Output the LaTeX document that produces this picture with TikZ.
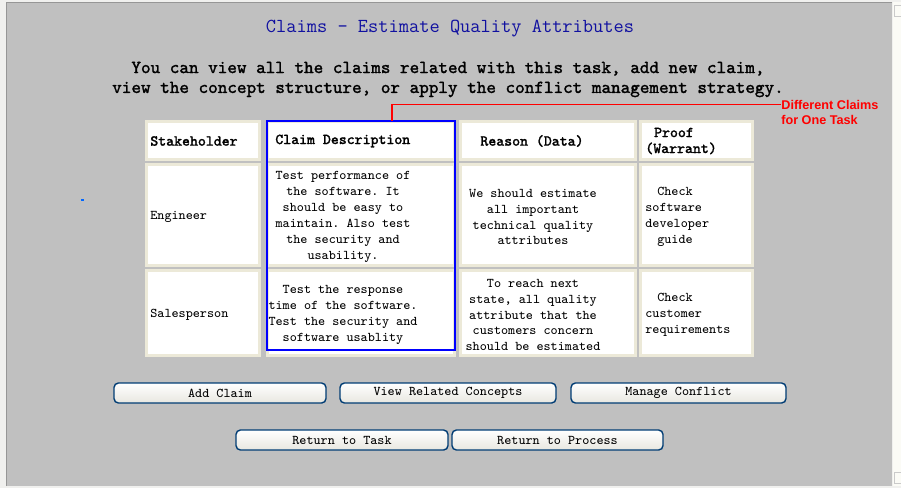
\documentclass[tikz,border=0pt]{standalone}
\usepackage{fontspec}
\setmainfont{Liberation Serif}
\setmonofont{Latin Modern Mono}
\setsansfont{Liberation Sans}
\newfontfamily\boldmono{Latin Modern Mono}[FakeBold=1.6]
\definecolor{pagegray}{RGB}{192,192,192}
\definecolor{edgegray}{RGB}{240,240,238}
\definecolor{lineframe}{RGB}{150,150,150}
\definecolor{cellbeige}{RGB}{236,233,216}
\definecolor{titleblue}{RGB}{16,16,160}
\definecolor{btnedge}{RGB}{0,60,116}
\definecolor{btnface}{RGB}{232,231,224}
\definecolor{scrollbg}{RGB}{251,251,246}
\tikzset{
    cell/.style = {
        fill=white,
        draw=cellbeige,
        line width=1.7pt
    },
    selbox/.style = {
        draw=blue,
        line width=1.4pt,
        inner sep=0pt
    },
    annot/.style = {
        red,
        line width=0.6pt
    },
    note/.style = {
        text=red,
        font=\sffamily\bfseries\fontsize{7.2}{8}\selectfont,
        inner sep=0pt
    },
    head/.style = {
        font=\boldmono\fontsize{8.6}{9.07}\selectfont,
        inner sep=0pt
    },
    body/.style = {
        font=\ttfamily\fontsize{7.6}{9.07}\selectfont,
        inner sep=0pt
    },
    btn/.style = {
        draw=btnedge,
        line width=0.8pt,
        rounded corners=2.5pt,
        top color=white,
        bottom color=btnface,
        minimum height=0.4cm,
        inner sep=0pt,
        font=\ttfamily\fontsize{7.6}{8}\selectfont
    }
}

\begin{document}
\begin{tikzpicture}[x=0.02cm,y=-0.02cm]
    \useasboundingbox (0,0) rectangle (901,488);
    \newcommand\RowA{141}
    \newcommand\RowB{217}
    \newcommand\RowC{315}

    % Window
    \fill[edgegray] (0,0) rectangle (901,488);
    \fill[pagegray] (6.5,3) rectangle (892,486);
    \draw[lineframe,line width=0.9pt] (6.5,486) -- (6.5,2.5) -- (892,2.5);
    \fill[scrollbg] (893,2) rectangle (901,486);
    \draw[lineframe!50,line width=0.4pt] (894,5) rectangle (901,16) (894,472) rectangle (901,483);
    \draw[blue!60!cyan,line width=0.6pt] (81,200) -- (84,200);

    % Title and intro
    \node[text=titleblue,font=\ttfamily\fontsize{11.3}{13}\selectfont] (title) at (450,29)
        {Claims - Estimate Quality Attributes};
    \node[align=center,font=\boldmono\fontsize{10.4}{11.34}\selectfont] (intro) at (448,79.5)
        {You can view all the claims related with this task, add new claim,\\
         view the concept structure, or apply the conflict management strategy.};

    % Cells
    \draw[cell] (146.5,121.5) rectangle (259.5,159.5);
    \draw[cell] (267.5,121.5) rectangle (454.5,159.5);
    \draw[cell] (460.5,121.5) rectangle (635.5,159.5);
    \draw[cell] (640.5,121.5) rectangle (752.5,159.5);
    \draw[cell] (146.5,164.5) rectangle (259.5,265.5);
    \draw[cell] (267.5,164.5) rectangle (454.5,265.5);
    \draw[cell] (460.5,164.5) rectangle (635.5,265.5);
    \draw[cell] (640.5,164.5) rectangle (752.5,265.5);
    \draw[cell] (146.5,270.5) rectangle (259.5,355.5);
    \draw[cell] (267.5,270.5) rectangle (454.5,355.5);
    \draw[cell] (460.5,270.5) rectangle (635.5,355.5);
    \draw[cell] (640.5,270.5) rectangle (752.5,355.5);

    % Header row
    \node[head,anchor=west] (hStake) at (150,\RowA) {Stakeholder};
    \node[head,anchor=west] (hClaim) at (275,\RowA) {Claim Description};
    \node[head] (hReason) at (532,\RowA) {Reason (Data)};
    \node[head,anchor=west,align=left] (hProof) at (645,\RowA) {\hspace*{5pt}Proof\\(Warrant)};

    % Engineer row
    \node[body,anchor=west] (engName) at (150,\RowB) {Engineer};
    \node[body,align=center] (engClaim) at (343,\RowB)
        {Test performance of\\the software. It\\should be easy to\\maintain. Also test\\the security and\\usability.};
    \node[body,align=center] (engReason) at (533,\RowB)
        {We should estimate\\all important\\technical quality\\attributes};
    \node[body,anchor=west,align=left] (engProof) at (645,\RowB)
        {\hspace*{6.8pt}Check\\software\\developer\\ \hspace*{6.8pt}guide};

    % Salesperson row
    \node[body,anchor=west] (salName) at (150,\RowC) {Salesperson};
    \node[body,align=center] (salClaim) at (343,\RowC)
        {Test the response\\time of the software.\\Test the security and\\software usablity};
    \node[body,align=center] (salReason) at (533,\RowC)
        {To reach next\\state, all quality\\attribute that the\\customers concern\\should be estimated};
    \node[body,anchor=west,align=left] (salProof) at (645,\RowC)
        {\hspace*{6.8pt}Check\\customer\\requirements};

    % Selected column
    \node[selbox,minimum width=3.76cm,minimum height=4.58cm] (sel) at (361,235.5) {};
    \coordinate (pin) at (392,121);
    \node[note,anchor=west] (note) at (781,104.5) {Different Claims};
    \node[note,anchor=west] (noteB) at (781,120) {for One Task};
    \draw[annot] (pin) |- (note.west);

    % Buttons
    \node[btn,minimum width=4.24cm] (addClaim) at (220,393) {Add Claim};
    \node[btn,minimum width=4.32cm] (viewRel) at (448,393) {View Related Concepts};
    \node[btn,minimum width=4.30cm] (manConf) at (678.5,393) {Manage Conflict};
    \node[btn,minimum width=4.24cm] (retTask) at (342,440) {Return to Task};
    \node[btn,minimum width=4.22cm] (retProc) at (557.5,440) {Return to Process};
\end{tikzpicture}
\end{document}
